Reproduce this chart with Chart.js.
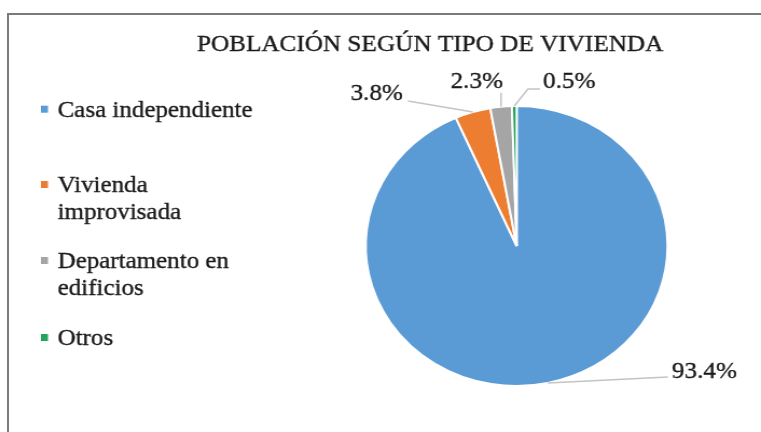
<!DOCTYPE html>
<html><head><meta charset="utf-8">
<script src="https://cdn.jsdelivr.net/npm/chart.js@4/dist/chart.umd.min.js"></script>
<style>
html,body{margin:0;padding:0;background:#fff;overflow:hidden;}
#wrap{position:relative;width:761px;height:432px;overflow:hidden;}
#frame{position:absolute;left:7px;top:13px;width:900px;height:600px;border-left:2px solid #7a7a7a;border-top:2px solid #7a7a7a;}
canvas{position:absolute;left:0;top:0;transform-origin:0 0;transform:scaleX(1.0779);}
</style></head><body>
<div id="wrap"><div id="frame"></div><canvas id="c" width="706" height="432"></canvas></div>
<script>
// Población según tipo de vivienda (%)
const chartTitle = 'POBLACIÓN SEGÚN TIPO DE VIVIENDA';
const categories = [['Casa independiente'], ['Vivienda', 'improvisada'], ['Departamento en', 'edificios'], ['Otros']];
const shares = [93.4, 3.8, 2.3, 0.5];
const sliceColors = ['#5B9BD5', '#ED7D31', '#A5A5A5', '#22A55A'];

const SERIF = "'Liberation Serif', 'Times New Roman', 'DejaVu Serif', serif";
const INK = '#1a1a1a';

// fill plus a hairline stroke so the serif text carries a little more weight
function inkText(ctx, txt, x, y) {
  ctx.fillStyle = INK;
  ctx.strokeStyle = INK;
  ctx.lineWidth = 0.35;
  ctx.fillText(txt, x, y);
  ctx.strokeText(txt, x, y);
}

// title drawn above the pie
const titlePlugin = {
  id: 'titleText',
  afterDraw(chart) {
    const ctx = chart.ctx;
    ctx.save();
    ctx.font = '23.4px ' + SERIF;
    ctx.textAlign = 'center';
    ctx.textBaseline = 'alphabetic';
    inkText(ctx, chartTitle, 399, 51);
    ctx.restore();
  }
};

// legend on the left, with wrapped category names
const sideLegend = {
  id: 'sideLegend',
  afterDraw(chart, args, opts) {
    const ctx = chart.ctx;
    const labels = chart.data.labels;
    const colors = chart.data.datasets[0].backgroundColor;
    ctx.save();
    ctx.font = '23.2px ' + SERIF;
    ctx.textBaseline = 'alphabetic';
    labels.forEach((lines, i) => {
      const base = opts.baselines[i];
      ctx.fillStyle = colors[i];
      ctx.fillRect(opts.boxX, base - 11, 6.5, 7);
      lines.forEach((ln, j) => inkText(ctx, ln, opts.textX, base + j * opts.lineGap));
    });
    ctx.restore();
  }
};

// percentage labels with leader lines from the outer edge of each slice
const callouts = {
  id: 'callouts',
  afterDraw(chart, args, opts) {
    const ctx = chart.ctx;
    const meta = chart.getDatasetMeta(0);
    const values = chart.data.datasets[0].data;
    ctx.save();
    ctx.font = '23.4px ' + SERIF;
    ctx.textBaseline = 'alphabetic';
    meta.data.forEach((arc, i) => {
      const p = arc.getProps(['x', 'y', 'startAngle', 'endAngle', 'outerRadius'], true);
      const mid = (p.startAngle + p.endAngle) / 2;
      const ax = p.x + Math.cos(mid) * p.outerRadius;
      const ay = p.y + Math.sin(mid) * p.outerRadius;
      const c = opts.place[i];
      ctx.strokeStyle = '#c4c4c4';
      ctx.lineWidth = 1.5;
      ctx.beginPath();
      ctx.moveTo(ax, ay);
      c.path.forEach(([dx, dy]) => ctx.lineTo(ax + dx, ay + dy));
      ctx.stroke();
      ctx.textAlign = c.align;
      inkText(ctx, values[i].toFixed(1) + '%', ax + c.tx, ay + c.ty);
    });
    ctx.restore();
  }
};

function build() {
  new Chart(document.getElementById('c'), {
    type: 'pie',
    data: {
      labels: categories,
      datasets: [{
        data: shares,
        backgroundColor: sliceColors,
        borderColor: '#ffffff',
        borderWidth: 2
      }]
    },
    options: {
      responsive: false,
      devicePixelRatio: 1,
      animation: false,
      layout: { padding: { left: 338.3, right: 85.7, top: 105, bottom: 45 } },
      plugins: {
        legend: { display: false },
        tooltip: { enabled: false },
        sideLegend: { boxX: 38, textX: 53.4, baselines: [116.7, 192, 268, 345], lineGap: 26.5 },
        callouts: {
          place: [
            { path: [[111.5, -6]], tx: 115.2, ty: -5, align: 'left' },
            { path: [[-60, -11]], tx: -64.7, ty: -12, align: 'right' },
            { path: [[0, -14]], tx: 1.8, ty: -18.8, align: 'right' },
            { path: [[12.7, -17], [23.9, -17]], tx: 26.6, ty: -18, align: 'left' }
          ]
        }
      }
    },
    plugins: [titlePlugin, sideLegend, callouts]
  });
}

Promise.all([
  document.fonts.load("23px 'Liberation Serif'")
]).then(build, build);
</script>
</body></html>
